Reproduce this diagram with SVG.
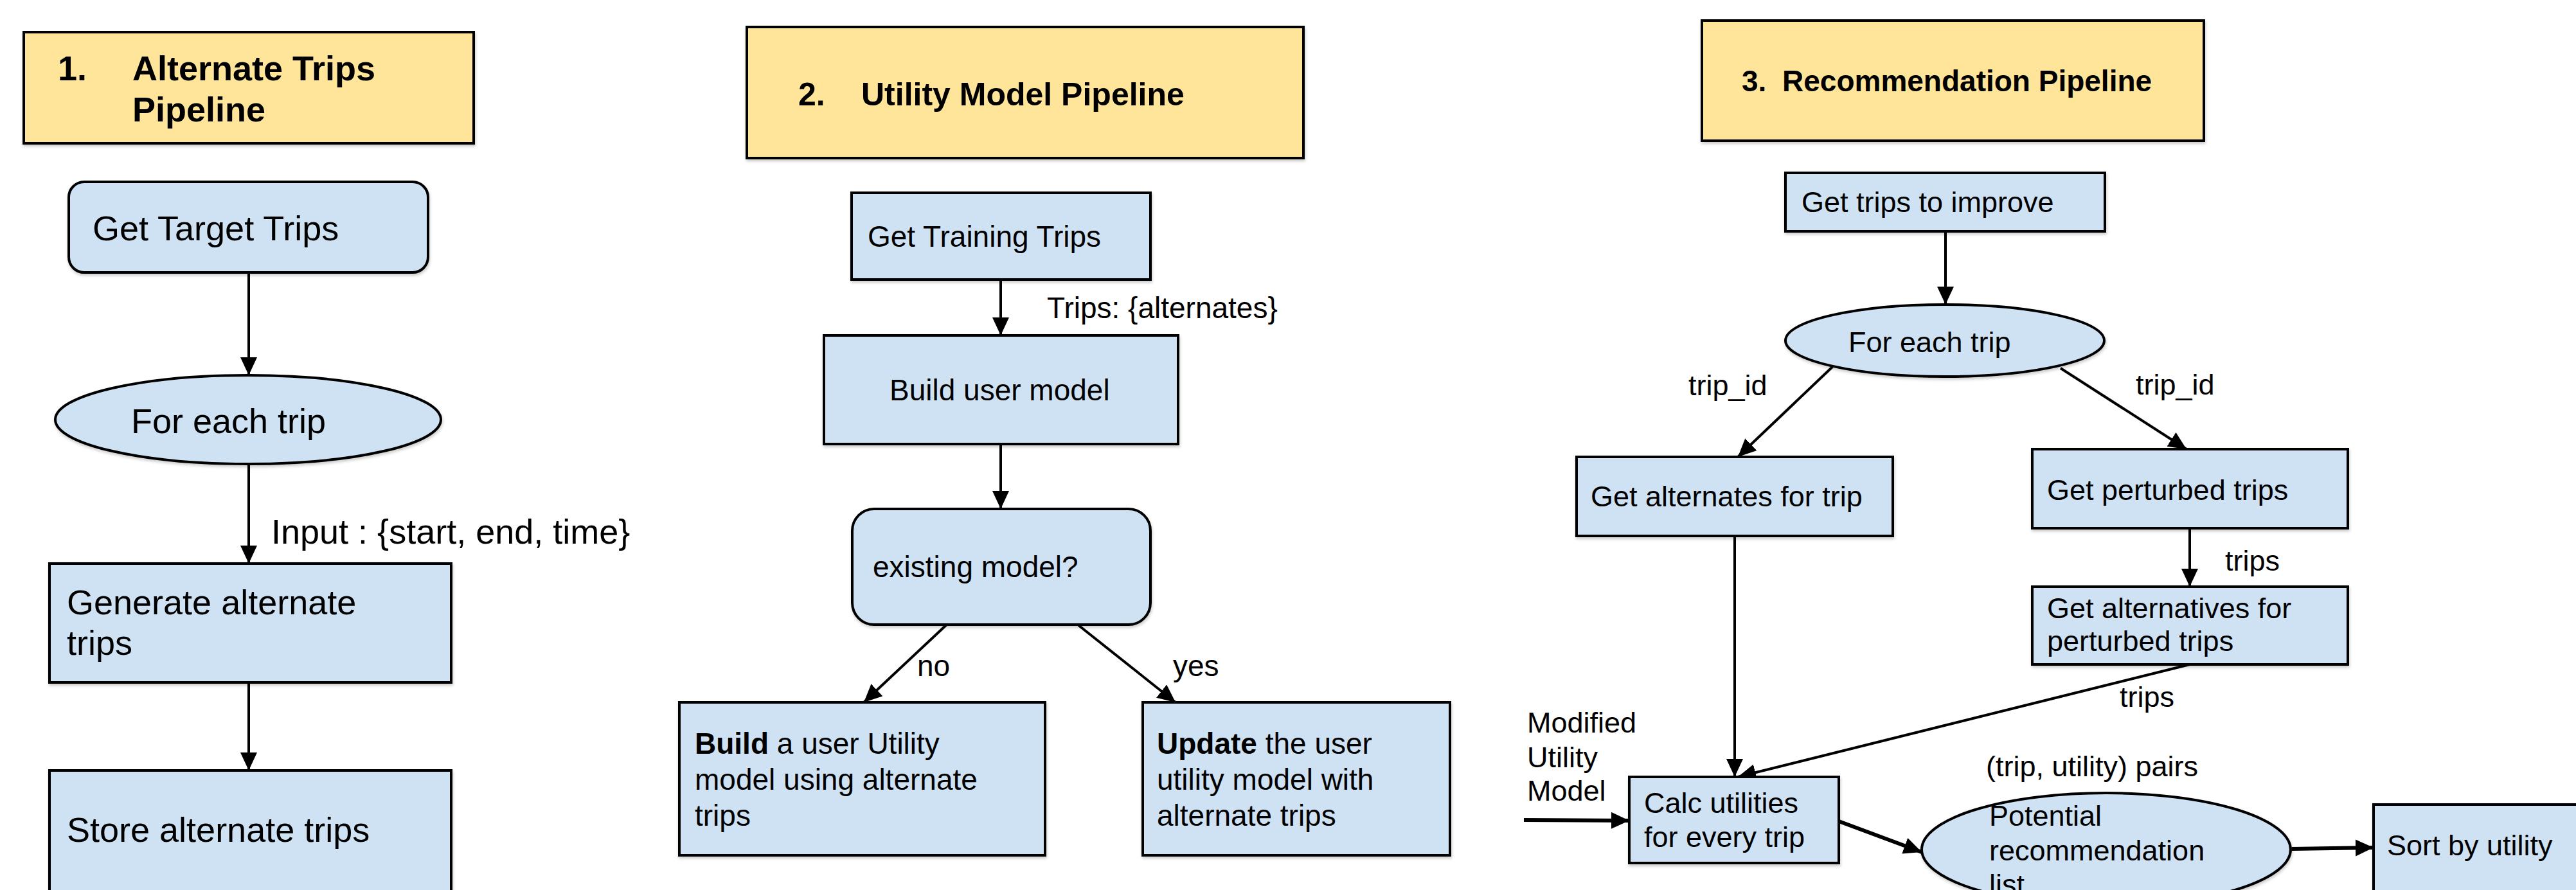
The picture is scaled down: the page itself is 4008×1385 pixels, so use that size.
<svg xmlns="http://www.w3.org/2000/svg" width="4008" height="1385" viewBox="0 0 4008 1385">
<style>
.box{fill:#cfe2f3;stroke:#000;stroke-width:4;filter:url(#sh)}
.title{fill:#ffe599;stroke:#000;stroke-width:4;filter:url(#sh)}
text{font-family:"Liberation Sans",Arial,sans-serif;fill:#000}
.t1{font-size:54px}
.t2{font-size:46px}
.t3{font-size:45px}
.b{font-weight:bold}
.c{fill:none;stroke:#000;stroke-width:4;marker-end:url(#ah)}
.ck{fill:none;stroke:#000;stroke-width:6;marker-end:url(#ah)}
</style>
<defs>
<filter id="sh" x="-5%" y="-5%" width="110%" height="115%">
<feDropShadow dx="1" dy="3" stdDeviation="2" flood-color="#000" flood-opacity="0.2"/>
</filter>
<marker id="ah" markerUnits="userSpaceOnUse" markerWidth="32" markerHeight="30" refX="28" refY="13" orient="auto">
<path d="M0,0 L28,13 L0,26 z" fill="#000"/>
</marker>
</defs>
<rect width="4008" height="1385" fill="#fff"/>

<g id="connectors">
<line class="c" x1="387" y1="424" x2="387" y2="584"/>
<line class="c" x1="387" y1="722" x2="387" y2="877"/>
<line class="c" x1="387" y1="1062" x2="387" y2="1199"/>
<line class="c" x1="1557" y1="435" x2="1557" y2="522"/>
<line class="c" x1="1557" y1="691" x2="1557" y2="792"/>
<line class="c" x1="1473" y1="972" x2="1344" y2="1093"/>
<line class="c" x1="1678" y1="973" x2="1829" y2="1093"/>
<line class="c" x1="3027" y1="360" x2="3027" y2="474"/>
<line class="c" x1="2851" y1="571" x2="2704" y2="711"/>
<line class="c" x1="3206" y1="573" x2="3402" y2="699"/>
<line class="c" x1="3407" y1="822" x2="3407" y2="913"/>
<line class="c" x1="3407" y1="1034" x2="2704" y2="1209"/>
<line class="c" x1="2699" y1="834" x2="2699" y2="1209"/>
<line class="ck" x1="2371" y1="1276" x2="2535" y2="1277"/>
<line class="ck" x1="2861" y1="1278" x2="2990" y2="1326"/>
<line class="ck" x1="3566" y1="1321" x2="3693" y2="1319"/>
<text class="t1" x="422" y="846">Input : {start, end, time}</text>
<text class="t2" x="1629" y="495">Trips: {alternates}</text>
<text class="t2" x="1427" y="1052">no</text>
<text class="t2" x="1825" y="1052">yes</text>
<text class="t3" x="2627" y="615">trip_id</text>
<text class="t3" x="3323" y="614">trip_id</text>
<text class="t3" x="3462" y="888">trips</text>
<text class="t3" x="3298" y="1100">trips</text>
<text class="t3" x="2376" y="1140">Modified</text>
<text class="t3" x="2376" y="1194">Utility</text>
<text class="t3" x="2376" y="1246">Model</text>
<text class="t3" x="3090" y="1208">(trip, utility) pairs</text>
</g>

<g id="title1">
<rect class="title" x="37" y="50" width="700" height="173"/>
<text class="t1 b" x="90" y="125">1.</text>
<text class="t1 b" x="206" y="125">Alternate Trips</text>
<text class="t1 b" x="206" y="189">Pipeline</text>
</g>
<g id="get-target-trips">
<rect class="box" x="107" y="283" width="559" height="141" rx="24"/>
<text class="t1" x="144" y="374">Get Target Trips</text>
</g>
<g id="for-each-trip-1">
<ellipse class="box" cx="386" cy="653" rx="300" ry="69"/>
<text class="t1" x="204" y="674">For each trip</text>
</g>
<g id="generate-alternate-trips">
<rect class="box" x="77" y="877" width="625" height="185"/>
<text class="t1" x="104" y="956">Generate alternate</text>
<text class="t1" x="104" y="1019">trips</text>
</g>
<g id="store-alternate-trips">
<rect class="box" x="77" y="1199" width="625" height="200"/>
<text class="t1" x="104" y="1310">Store alternate trips</text>
</g>

<g id="title2">
<rect class="title" x="1162" y="42" width="866" height="204"/>
<text class="b" style="font-size:50px" x="1242" y="164">2.</text>
<text class="b" style="font-size:50px" x="1340" y="164">Utility Model Pipeline</text>
</g>
<g id="get-training-trips">
<rect class="box" x="1325" y="300" width="465" height="135"/>
<text class="t2" x="1350" y="384">Get Training Trips</text>
</g>
<g id="build-user-model">
<rect class="box" x="1282" y="522" width="551" height="169"/>
<text class="t2" x="1384" y="623">Build user model</text>
</g>
<g id="existing-model">
<rect class="box" x="1326" y="792" width="464" height="180" rx="34"/>
<text class="t2" x="1358" y="898">existing model?</text>
</g>
<g id="build-utility-model">
<rect class="box" x="1057" y="1093" width="569" height="238"/>
<text class="t2" x="1081" y="1173"><tspan class="b">Build</tspan> a user Utility</text>
<text class="t2" x="1081" y="1229">model using alternate</text>
<text class="t2" x="1081" y="1285">trips</text>
</g>
<g id="update-utility-model">
<rect class="box" x="1778" y="1093" width="478" height="238"/>
<text class="t2" x="1800" y="1173"><tspan class="b">Update</tspan> the user</text>
<text class="t2" x="1800" y="1229">utility model with</text>
<text class="t2" x="1800" y="1285">alternate trips</text>
</g>

<g id="title3">
<rect class="title" x="2648" y="32" width="781" height="187"/>
<text class="b" style="font-size:46px" x="2710" y="142">3.</text>
<text class="b" style="font-size:46px" x="2773" y="142">Recommendation Pipeline</text>
</g>
<g id="get-trips-to-improve">
<rect class="box" x="2778" y="269" width="497" height="91"/>
<text class="t3" x="2803" y="330">Get trips to improve</text>
</g>
<g id="for-each-trip-3">
<ellipse class="box" cx="3026" cy="530" rx="248" ry="56"/>
<text class="t3" x="2876" y="548">For each trip</text>
</g>
<g id="get-alternates-for-trip">
<rect class="box" x="2453" y="711" width="492" height="123"/>
<text class="t3" x="2475" y="788">Get alternates for trip</text>
</g>
<g id="get-perturbed-trips">
<rect class="box" x="3162" y="699" width="491" height="123"/>
<text class="t3" x="3185" y="778">Get perturbed trips</text>
</g>
<g id="get-alternatives-perturbed">
<rect class="box" x="3162" y="913" width="491" height="121"/>
<text class="t3" x="3185" y="962">Get alternatives for</text>
<text class="t3" x="3185" y="1013">perturbed trips</text>
</g>
<g id="calc-utilities">
<rect class="box" x="2535" y="1209" width="326" height="134"/>
<text class="t3" x="2558" y="1265">Calc utilities</text>
<text class="t3" x="2558" y="1318">for every trip</text>
</g>
<g id="potential-recommendation-list">
<ellipse class="box" cx="3277" cy="1322" rx="287" ry="88"/>
<text class="t3" x="3095" y="1285">Potential</text>
<text class="t3" x="3095" y="1339">recommendation</text>
<text class="t3" x="3095" y="1392">list</text>
</g>
<g id="sort-by-utility">
<rect class="box" x="3693" y="1252" width="340" height="160"/>
<text class="t3" x="3714" y="1331">Sort by utility</text>
</g>
</svg>
